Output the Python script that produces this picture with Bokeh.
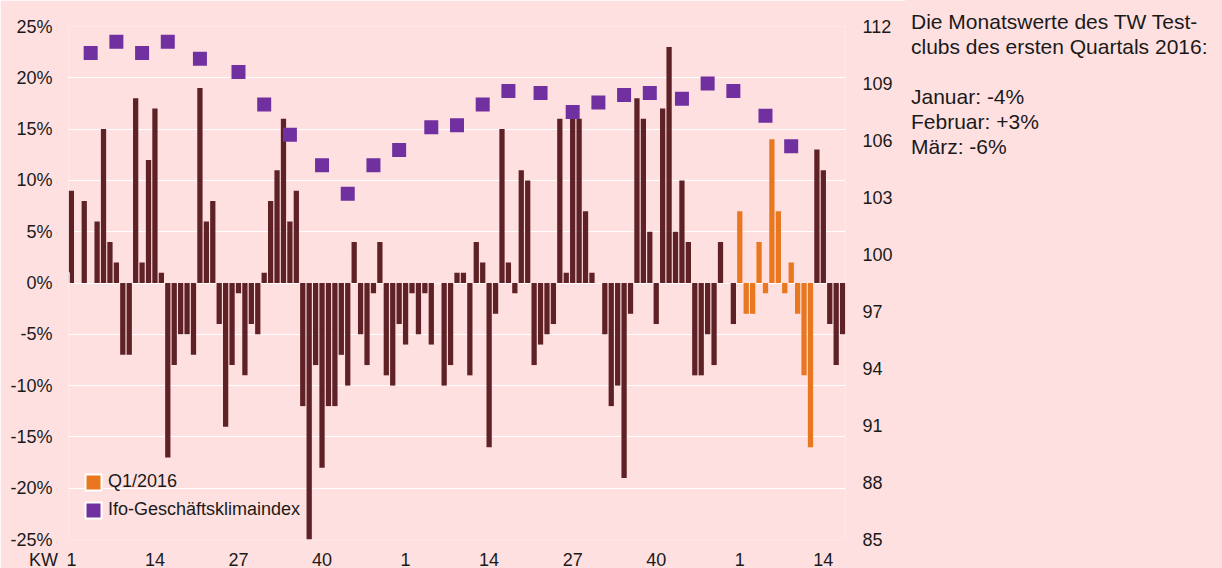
from bokeh.plotting import figure
from bokeh.models import (ColumnDataSource, Range1d, LinearAxis, FixedTicker,
                          PrintfTickFormatter, Legend, LegendItem, Div)
from bokeh.layouts import row, column
from bokeh.embed import file_html
from bokeh.resources import INLINE

# ---------------- data ----------------
# weekly change of the TW-Testclub (%), by calendar week (KW); None = no value
kw_2014 = [9, None, 8, None, 6, 15, 4, 2, -7, -7,
           18, 2, 12, 17, 1, -17, -8, -5, -5, -7,
           19, 6, 8, -4, -14, -8, -1, -9, -4, -5,
           1, 8, 11, 16, 6, 9, -12, -25, -8, -18,
           -12, -12, -7, -10, 4, -5, -8, -1, 4, -9,
           -10, -4]
kw_2015 = [-6, -1, -5, -1, -6, None, -10, -8, 1, 1,
           -9, 4, 2, -16, -3, 15, 2, -1, 11, 10,
           -8, -6, -5, -4, 16, 1, 16, 16, 7, 1,
           None, -5, -12, -10, -19, -3, 18, 16, 5, -4,
           17, 23, 5, 10, 4, -9, -9, -5, -8, 4,
           None, -4]
kw_2016 = [7, -3, -3, 4, -1, 14, 7, -1, 2, -3, -9, -16, 13, 11, -4, -8, -5]
q1_2016_kw = [1, 2, 3, 4, 5, 6, 7, 8, 9, 10, 11, 12]   # highlighted weeks

# Ifo business climate index (monthly), plotted at calendar week
ifo_year = [2014] * 12 + [2015] * 12 + [2016] * 2
ifo_kw = [4, 8, 12, 16, 21, 27, 31, 35, 40, 44, 48, 52,
          5, 9, 13, 17, 22, 27, 31, 35, 39, 44, 48, 52,
          5, 9]
ifo_value = [110.6, 111.2, 110.6, 111.2, 110.3, 109.6, 107.9, 106.3, 104.7, 103.2, 104.7, 105.5,
             106.7, 106.8, 107.9, 108.6, 108.5, 107.5, 108.0, 108.4, 108.5, 108.2, 109.0, 108.6,
             107.3, 105.7]

x_tick_kw = ["1", "14", "27", "40", "1", "14", "27", "40", "1", "14"]
left_ticks = [-25, -20, -15, -10, -5, 0, 5, 10, 15, 20, 25]
right_ticks = [85, 88, 91, 94, 97, 100, 103, 106, 109, 112]

info_lines = ["Die Monatswerte des TW Test-",
              "clubs des ersten Quartals 2016:",
              "",
              "Januar: -4%",
              "Februar: +3%",
              "März: -6%"]
legend_labels = ["Q1/2016", "Ifo-Geschäftsklimaindex"]
x_axis_name = "KW"

# ---------------- build ----------------
WEEKS_PER_YEAR = 52
offsets = {2014: 0, 2015: WEEKS_PER_YEAR, 2016: 2 * WEEKS_PER_YEAR}

brown = dict(x=[], top=[])
orange = dict(x=[], top=[])
for year, vals in ((2014, kw_2014), (2015, kw_2015), (2016, kw_2016)):
    for i, v in enumerate(vals):
        if v is None:
            continue
        xi = offsets[year] + i
        if year == 2016 and (i + 1) in q1_2016_kw:
            orange["x"].append(xi); orange["top"].append(v)
        else:
            brown["x"].append(xi); brown["top"].append(v)

ifo_x = [offsets[y] + k - 1 for y, k in zip(ifo_year, ifo_kw)]

BG = "#FFE0E0"
BROWN = "#5E2126"
ORANGE = "#E8771F"
PURPLE = "#7030A0"
TXT = "#1a1a1a"
FONT = "Liberation Sans"

W, H = 1222, 568
PW = 905                      # width of the chart figure; info text to its right
XMIN, XMAX = -0.45, 120.45
YMIN, YMAX = -25, 25
FX0, FX1, FY0, FY1 = 68, 845, 26, 539

p = figure(width=PW, height=H,
           x_range=Range1d(XMIN, XMAX), y_range=Range1d(YMIN, YMAX),
           output_backend="svg", toolbar_location=None,
           min_border_left=FX0, min_border_right=PW - FX1,
           min_border_top=FY0, min_border_bottom=H - FY1,
           background_fill_color=BG, border_fill_color=BG,
           outline_line_color=None, margin=0)
p.extra_y_ranges = {"ifo": Range1d(85, 112)}

p.xgrid.visible = False
p.ygrid.grid_line_color = "white"
p.ygrid.grid_line_width = 1
p.ygrid.ticker = FixedTicker(ticks=left_ticks)

p.vbar(x="x", top="top", bottom=0, width=0.82, source=ColumnDataSource(brown),
       fill_color=BROWN, line_color=None)
p.vbar(x="x", top="top", bottom=0, width=0.82, source=ColumnDataSource(orange),
       fill_color=ORANGE, line_color=None)
p.scatter(x=ifo_x, y=ifo_value, y_range_name="ifo", marker="square", size=14,
          fill_color=PURPLE, line_color=None)

def style_axis(ax):
    ax.axis_line_color = None
    ax.major_tick_line_color = None
    ax.minor_tick_line_color = None
    ax.major_tick_out = 0
    ax.major_tick_in = 0
    ax.minor_tick_out = 0
    ax.major_label_text_font = FONT
    ax.major_label_text_font_size = "18px"
    ax.major_label_text_color = TXT

# x axis
xa = p.xaxis[0]
style_axis(xa)
xa.ticker = FixedTicker(ticks=[13 * i for i in range(len(x_tick_kw))])
xa.major_label_overrides = {13 * i: t for i, t in enumerate(x_tick_kw)}
xa.major_label_standoff = 13
xa.major_label_text_line_height = 0.6

# left axis
ya = p.yaxis[0]
style_axis(ya)
ya.ticker = FixedTicker(ticks=left_ticks)
ya.formatter = PrintfTickFormatter(format="%d%%")
ya.major_label_standoff = 16

# right axis
ra = LinearAxis(y_range_name="ifo", ticker=FixedTicker(ticks=right_ticks))
style_axis(ra)
ra.major_label_standoff = 17
p.add_layout(ra, "right")

# legend for bars / index (proxies lie outside the x range, so only the legend shows them)
leg_q1 = p.vbar(x=[XMIN - 50], top=[1], width=0.8, fill_color=ORANGE,
                line_color="white", line_width=2)
leg_ifo = p.vbar(x=[XMIN - 50], top=[1], width=0.8, fill_color=PURPLE,
                 line_color="white", line_width=2)
legend = Legend(items=[LegendItem(label=legend_labels[0], renderers=[leg_q1]),
                       LegendItem(label=legend_labels[1], renderers=[leg_ifo])],
                location=(15, 19), orientation="vertical",
                glyph_width=20, glyph_height=20, label_height=20,
                spacing=7, padding=0, margin=0, label_standoff=5,
                label_text_font=FONT, label_text_font_size="18px",
                label_text_color=TXT,
                border_line_color=None, background_fill_alpha=0)
p.add_layout(legend)

# info text right of the chart
info_html = ("<div style=\"font-family:'Liberation Sans';font-size:21px;line-height:25px;"
             "color:%s;padding:9px 0 0 6px;white-space:nowrap;\">%s</div>"
             % (TXT, "<br>".join(l if l else "&nbsp;" for l in info_lines)))
info = Div(text=info_html, width=W - PW, height=H, margin=0,
           styles={"background-color": BG})

# "KW" on the line of the x tick labels
kw_html = ("<div style=\"font-family:'Liberation Sans';font-size:18px;line-height:16px;"
           "color:%s;white-space:nowrap;\">%s</div>" % (TXT, x_axis_name))
kw = Div(text=kw_html, width=40, height=16, margin=(-16, 0, 0, 29),
         styles={"position": "relative", "z-index": "10"})

layout = column(row(p, info, spacing=0, margin=0), kw, spacing=0, margin=0)
open("out.html", "w").write(file_html(layout, INLINE))
